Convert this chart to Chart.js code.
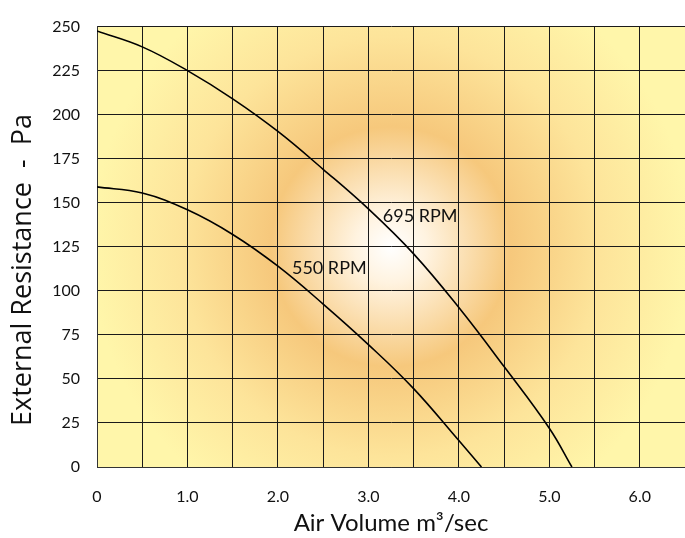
<!DOCTYPE html>
<html>
<head>
<meta charset="utf-8">
<script src="https://cdn.jsdelivr.net/npm/chart.js@4"></script>
<style>
  html, body { margin: 0; padding: 0; background: #fff; overflow: hidden; }
  canvas { display: block; }
</style>
</head>
<body>
<canvas id="fanChart" width="685" height="538"></canvas>
<script>
// fan curves
const volume695 = [0, 0.5, 1.0, 1.5, 2.0, 2.5, 3.0, 3.5, 4.0, 4.5, 5.0, 5.25];
const pressure695 = [247.5, 238.5, 225, 209, 190.5, 169, 146.5, 121, 90.5, 57, 22, 0];
const volume550 = [0, 0.5, 1.0, 1.5, 2.0, 2.5, 3.0, 3.5, 4.0, 4.25];
const pressure550 = [159, 155.5, 146, 132, 114, 92.5, 69.5, 44.5, 15, 0];

const curveNames = ['695 RPM', '550 RPM'];
const curveLabelX = [3.16, 2.155];
const curveLabelY = [142.3, 113];

const xTicks = [0, 1, 2, 3, 4, 5, 6];
const yTicks = [0, 25, 50, 75, 100, 125, 150, 175, 200, 225, 250];

const yTitle = 'External Resistance  -  Pa';
const xTitle = 'Air Volume m³/sec';

const FONT = 'Lato, "Liberation Sans", sans-serif';

function toPoints(xs, ys) {
    return xs.map((x, i) => ({ x: x, y: ys[i] }));
}

// radial glow behind the grid
const glowPlugin = {
    id: 'glow',
    beforeDraw(chart) {
        const { ctx, chartArea: a } = chart;
        const cx = a.left + (a.right - a.left) * 0.50;
        const cy = a.top + (a.bottom - a.top) * 0.50;
        const g = ctx.createRadialGradient(cx, cy, 0, cx, cy, 300);
        g.addColorStop(0, '#ffffff');
        g.addColorStop(0.12, '#fff3e0');
        g.addColorStop(0.40, '#f6c87c');
        g.addColorStop(0.70, '#fde49a');
        g.addColorStop(1, '#fff6aa');
        ctx.save();
        ctx.fillStyle = g;
        ctx.fillRect(a.left, a.top, a.right - a.left, a.bottom - a.top);
        ctx.restore();
    }
};

// RPM labels next to the curves + the vertical axis title
const textPlugin = {
    id: 'curveLabels',
    afterDatasetsDraw(chart) {
        const { ctx, scales } = chart;
        ctx.save();
        ctx.font = '18px ' + FONT;
        ctx.fillStyle = '#111';
        ctx.textBaseline = 'middle';
        curveNames.forEach((name, i) => {
            ctx.fillText(name, scales.x.getPixelForValue(curveLabelX[i]), scales.y.getPixelForValue(curveLabelY[i]));
        });
        ctx.restore();

        // y title sits a bit lower than the plot centre in the original
        ctx.save();
        ctx.translate(23, 270);
        ctx.rotate(-Math.PI / 2);
        ctx.font = '27px "Open Sans", sans-serif';
        ctx.fillStyle = '#111';
        ctx.textAlign = 'center';
        ctx.textBaseline = 'middle';
        ctx.fillText(yTitle, 0, 0);
        ctx.restore();
    }
};

const ctx = document.getElementById('fanChart').getContext('2d');
new Chart(ctx, {
    type: 'line',
    data: {
        datasets: [
            { label: curveNames[0], data: toPoints(volume695, pressure695) },
            { label: curveNames[1], data: toPoints(volume550, pressure550) }
        ]
    },
    options: {
        responsive: false,
        animation: false,
        layout: { padding: { top: 4, right: 0, left: 0, bottom: 0 } },
        elements: {
            line: { borderColor: '#000', borderWidth: 1.6, tension: 0.4, fill: false },
            point: { radius: 0 }
        },
        plugins: {
            legend: { display: false },
            tooltip: { enabled: false }
        },
        scales: {
            x: {
                type: 'linear',
                min: 0,
                max: 6.5,
                afterFit(scale) {
                    scale.height = 71;
                    scale.paddingRight = 0;
                    scale.paddingLeft = 0;
                },
                ticks: {
                    stepSize: 0.5,
                    autoSkip: false,
                    maxRotation: 0,
                    padding: 20,
                    color: '#111',
                    font: { family: FONT, size: 16 },
                    callback: v => xTicks.includes(v) ? (v === 0 ? '0' : v.toFixed(1)) : ''
                },
                grid: { color: '#1a1a1a', lineWidth: 1, drawTicks: false },
                border: { color: '#333', width: 1 },
                title: {
                    display: true,
                    text: xTitle,
                    color: '#111',
                    font: { family: FONT, size: 24 },
                    padding: { top: 0, bottom: 0 }
                }
            },
            y: {
                min: 0,
                max: 250,
                afterFit(scale) { scale.width = 97; },
                ticks: {
                    stepSize: 25,
                    autoSkip: false,
                    padding: 17,
                    color: '#111',
                    font: { family: FONT, size: 16 },
                    callback: v => yTicks.includes(v) ? String(v) : ''
                },
                grid: { color: '#1a1a1a', lineWidth: 1, drawTicks: false },
                border: { color: '#333', width: 1 }
            }
        }
    },
    plugins: [glowPlugin, textPlugin]
});
</script>
</body>
</html>
